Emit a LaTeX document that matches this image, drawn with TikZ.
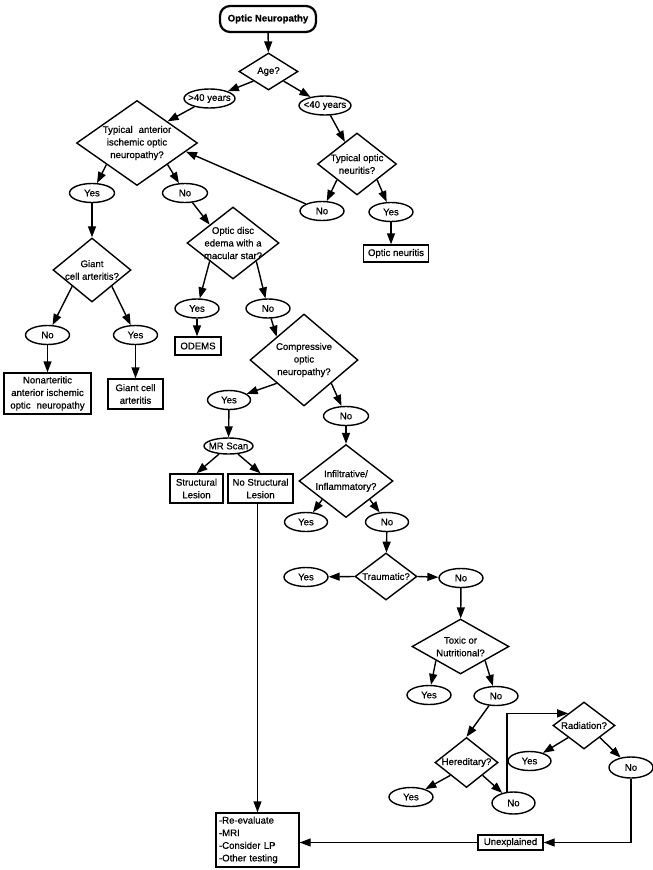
\documentclass[tikz,border=0pt]{standalone}
\usepackage{fontspec}
\setmainfont{Liberation Sans}[FakeBold=0.6]
\usetikzlibrary{shapes.geometric,arrows.meta,calc}
\newcommand\fs{\fontsize{9.6}{12.6}\selectfont}
\tikzset{
 base/.style={draw, line width=1.4pt, inner sep=0pt},
 dia/.style={base, diamond},
 ell/.style={base, ellipse, minimum height=19},
 box/.style={base, rectangle, align=center, font=\fs},
 txt/.style={align=center, inner sep=0pt, font=\fs},
 arr/.style={line width=1.4pt, -{Triangle[length=11pt,width=8pt]}},
}
\newcommand\Dia[5]{\node[dia, minimum width=#3, minimum height=#4] (#1) at (#2) {}; \node[txt] (#1-t) at (#1) {#5};}
\newcommand\Ell[4]{\node[ell, minimum width=#3] (#1) at (#2) {}; \node[txt] (#1-t) at (#1) {#4};}
\begin{document}
\begin{tikzpicture}[x=1pt,y=-1pt]
\fill[white] (0,0) rectangle (653,870);
\useasboundingbox (0,0) rectangle (653,870);
% nodes
\node[box, rounded corners=10pt, line width=2.2pt, minimum width=96, minimum height=26, font=\fs\bfseries] (on) at (268,19) {Optic Neuropathy};
\Dia{age}{268.5,71.5}{59}{37}{Age?}
\Ell{gt}{209.5,98.5}{51}{>40 years}
\Ell{lt}{325,105.5}{52}{<40 years}
\Dia{aion}{137,143}{121}{85}{Typical\hspace{6pt}anterior\\ischemic optic\\neuropathy?}
\Dia{ton}{357,164}{79}{62}{Typical optic\\neuritis?}
\Ell{tno}{322,211}{44}{No}
\Ell{tyes}{391,212}{44}{Yes}
\node[box, minimum width=65, minimum height=17] (onb) at (396,253.5) {Optic neuritis};
\Ell{ayes}{92,193}{45}{Yes}
\Ell{ano}{185,193}{45}{No}
\Dia{gca}{92,270}{78}{64}{Giant\\cell arteritis?}
\Dia{odx}{233,243}{92}{72}{Optic disc\\edema with a\\macular star?}
\Ell{gno}{47.5,335}{44}{No}
\Ell{gyes}{135.5,335}{44}{Yes}
\node[box, minimum width=87, minimum height=41] (nai) at (47.5,393.5) {Nonarteritic\\anterior ischemic\\optic\hspace{6pt}neuropathy};
\node[box, minimum width=55, minimum height=30] (gcb) at (135.5,394) {Giant cell\\arteritis};
\Ell{oyes}{197,308.5}{44}{Yes}
\Ell{ono}{268,308.5}{44}{No}
\node[box, minimum width=46, minimum height=18] (odm) at (198,346) {ODEMS};
\Dia{cmp}{304,360}{108}{92}{Compressive\\optic\\neuropathy?}
\Ell{cyes}{229,400}{43}{Yes}
\Ell{cno}{346,416}{45}{No}
\node[ell, minimum width=49, minimum height=16] (mr) at (228.5,446) {};
\node[txt] (mr-t) at (mr) {MR Scan};
\node[box, minimum width=53, minimum height=29] (sl) at (196.5,488.5) {Structural\\Lesion};
\node[box, minimum width=65, minimum height=29] (nsl) at (260.5,488.5) {No Structural\\Lesion};
\Dia{inf}{346,481}{94}{73}{Infiltrative/\\Inflammatory?}
\Ell{iyes}{306,522}{43}{Yes}
\Ell{ino}{387,522}{43}{No}
\Dia{trm}{386,576.5}{62}{47}{Traumatic?}
\Ell{tmyes}{306,577}{44}{Yes}
\Ell{tmno}{461,578}{44}{No}
\Dia{tox}{460.5,646.5}{97}{55}{Toxic or\\Nutritional?}
\Ell{xyes}{429,695}{44}{Yes}
\Ell{xno}{496,696}{44}{No}
\Dia{her}{466.5,762.5}{63}{50}{Hereditary?}
\Ell{hyes}{411,797}{44}{Yes}
\node[ell, minimum width=43, minimum height=22] (hno) at (513.5,803) {};
\node[txt] (hno-t) at (hno) {No};
\Dia{rad}{584,725.5}{62}{47}{Radiation?}
\Ell{ryes}{529.5,761}{43}{Yes}
\node[ell, minimum width=44, minimum height=21] (rno) at (631,767.5) {};
\node[txt] (rno-t) at (rno) {No};
\node[box, minimum width=65, minimum height=15] (unx) at (510.5,842.5) {Unexplained};
\node[box, text width=77, align=left, inner xsep=3, minimum height=54] (rev) at (257.5,840) {-Re-evaluate\\-MRI\\-Consider LP\\-Other testing};
% connectors
\draw[arr] (on) -- (age);
\draw[arr] (age.south west) -- (gt);
\draw[arr] (age.south east) -- (lt);
\draw[arr] (gt) -- (aion.north east);
\draw[arr] (lt) -- (ton);
\draw[arr] (ton.south west) -- (tno);
\draw[arr] (ton.south east) -- (tyes);
\draw[arr] (tyes.south) -- (tyes.south |- onb.north);
\draw[arr] (tno) -- ($(aion.east)!0.2!(aion.south)$);
\draw[arr] (aion.south west) -- (ayes);
\draw[arr] (aion.south east) -- (ano);
\draw[arr] (ayes) -- (gca);
\draw[arr] (ano) -- (odx.north west);
\draw[arr] (gca.south west) -- (gno);
\draw[arr] (gca.south east) -- (gyes);
\draw[arr] (gno) -- (nai);
\draw[arr] (gyes) -- (gcb);
\draw[arr] (odx.south west) -- (oyes);
\draw[arr] (odx.south east) -- (ono);
\draw[arr] (oyes.south) -- (oyes.south |- odm.north);
\draw[arr] (ono) -- (cmp.north west);
\draw[arr] (cmp.south west) -- (cyes);
\draw[arr] (cmp.south east) -- (cno);
\draw[arr] (cyes) -- (mr);
\draw[arr] (mr) -- (sl.north);
\draw[arr] (mr) -- (nsl.north);
\draw[arr] (cno) -- (inf);
\draw[arr] (inf.south west) -- (iyes);
\draw[arr] (inf.south east) -- (ino);
\draw[arr] (ino) -- (trm);
\draw[arr] (trm.west) -- (tmyes);
\draw[arr] (trm.east) -- (tmno);
\draw[arr] (tmno) -- (tox);
\draw[arr] (tox.south west) -- (xyes);
\draw[arr] (tox.south east) -- (xno);
\draw[arr] (xno) -- (her.north);
\draw[arr] (her.south west) -- (hyes);
\draw[arr] (her.south east) -- (hno);
\draw[arr] (hno.120) |- (rad.north west);
\draw[arr] (rad.south west) -- (ryes);
\draw[arr] (rad.south east) -- (rno);
\draw[arr] (rno.south) |- (unx.east);
\draw[arr] (unx.west) -- (unx.west -| rev.east);
\draw[arr] (nsl.south -| rev.north) -- (rev.north);
\end{tikzpicture}
\end{document}
